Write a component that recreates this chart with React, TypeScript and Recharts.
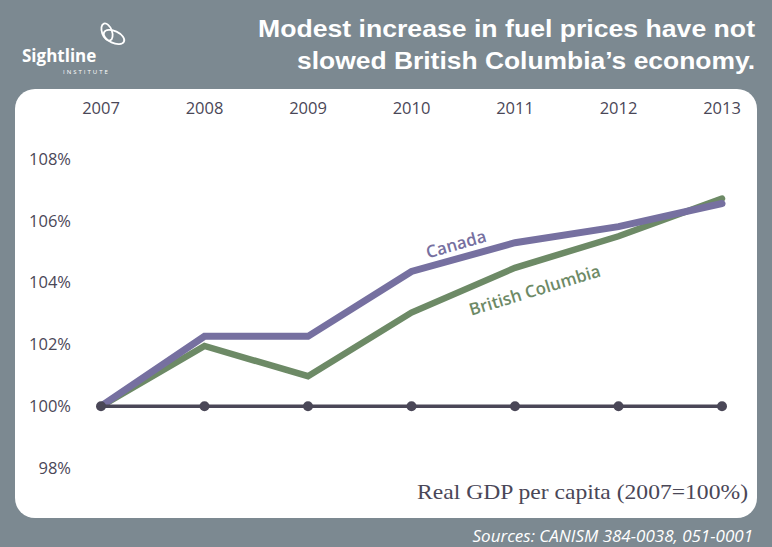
import React from "react";
import { LineChart, Line, XAxis, YAxis, ReferenceDot } from "recharts";

const years = [2007, 2008, 2009, 2010, 2011, 2012, 2013];
const canada = [100, 102.26, 102.26, 104.36, 105.29, 105.81, 106.56];
const britishColumbia = [100, 101.95, 100.97, 103.03, 104.48, 105.5, 106.72];
const baseline = [100, 100, 100, 100, 100, 100, 100];
const yTicks = [98, 100, 102, 104, 106, 108];

const data = years.map((year, i) => ({
  year,
  canada: canada[i],
  bc: britishColumbia[i],
  base: baseline[i],
}));

const INK = "#4a4757";
const PURPLE = "#7670a0";
const GREEN = "#6d8a66";
const BG = "#7c8991";
const SANS = "'Open Sans', 'Noto Sans', sans-serif";

function slopeLabel(text: string, color: string, angle: number) {
  return (props: any) => {
    const vb = props.viewBox || {};
    const x = vb.x + (vb.width || 0) / 2;
    const y = vb.y + (vb.height || 0) / 2;
    return (
      <text
        x={x}
        y={y}
        textAnchor="middle"
        dominantBaseline="central"
        transform={`rotate(${angle} ${x} ${y})`}
        fill={color}
        fontFamily={SANS}
        fontSize={17}
        fontWeight={600}
      >
        {text}
      </text>
    );
  };
}

function Backdrop() {
  return (
    <svg width={772} height={547} style={{ position: "absolute", left: 0, top: 0 }}>
      <rect x={0} y={0} width={772} height={547} fill={BG} />
      <rect x={15} y={89} width={742} height={429} rx={20} ry={20} fill="#ffffff" />
      {/* logo */}
      <g fill="none" stroke="#ffffff" strokeWidth={1.8}>
        <ellipse cx={114} cy={37} rx={11} ry={6} transform="rotate(25 114 37)" />
        <ellipse cx={107} cy={32} rx={5} ry={9} transform="rotate(-20 107 32)" />
      </g>
      <text x={22} y={62} fill="#ffffff" fontFamily={SANS} fontSize={17} fontWeight={700}>
        Sightline
      </text>
      <text x={63} y={74} fill="#ffffff" fontFamily={SANS} fontSize={6} letterSpacing={2}>
        INSTITUTE
      </text>
      {/* title */}
      <g fill="#ffffff" fontFamily="'Liberation Sans', Arial, sans-serif" fontSize={24} fontWeight={700} textAnchor="end">
        <text x={755} y={37} textLength={497} lengthAdjust="spacingAndGlyphs">
          Modest increase in fuel prices have not
        </text>
        <text x={755} y={69} textLength={458} lengthAdjust="spacingAndGlyphs">
          slowed British Columbia’s economy.
        </text>
      </g>
      <text
        x={748}
        y={499}
        textAnchor="end"
        fill={INK}
        fontFamily="'Liberation Serif', 'DejaVu Serif', serif"
        fontSize={21}
        textLength={331}
        lengthAdjust="spacingAndGlyphs"
      >
        Real GDP per capita (2007=100%)
      </text>
      <text x={753} y={542} textAnchor="end" fill="#ffffff" fontFamily={SANS} fontStyle="italic" fontSize={17}>
        Sources: CANISM 384-0038, 051-0001
      </text>
    </svg>
  );
}

export default function App() {
  return (
    <div style={{ position: "absolute", left: 0, top: 0, width: 772, height: 547 }}>
      <Backdrop />
      <div style={{ position: "absolute", left: 0, top: 0 }}>
        <LineChart width={772} height={547} data={data} margin={{ top: 129, right: 50, left: 41, bottom: 79 }}>
          <XAxis
            dataKey="year"
            type="number"
            domain={[2007, 2013]}
            ticks={years}
            orientation="top"
            height={30}
            axisLine={false}
            tickLine={false}
            tickMargin={39}
            tick={{ fontSize: 16.5, fill: INK, fontFamily: SANS, fontWeight: 500 }}
          />
          <YAxis
            type="number"
            domain={[98, 108]}
            ticks={yTicks}
            width={60}
            axisLine={false}
            tickLine={false}
            tickMargin={24}
            tickFormatter={(v) => `${v}%`}
            tick={{ fontSize: 16.5, fill: INK, fontFamily: SANS, fontWeight: 500 }}
          />
          <Line
            dataKey="bc"
            stroke={GREEN}
            strokeWidth={6.5}
            dot={false}
            strokeLinecap="round"
            isAnimationActive={false}
          />
          <Line
            dataKey="canada"
            stroke={PURPLE}
            strokeWidth={7}
            dot={false}
            strokeLinecap="round"
            isAnimationActive={false}
          />
          <Line
            dataKey="base"
            stroke={INK}
            strokeWidth={3.5}
            dot={{ r: 5, fill: INK, stroke: "none" }}
            isAnimationActive={false}
          />
          <ReferenceDot
            x={2010.43}
            y={105.26}
            r={0}
            fill="none"
            stroke="none"
            label={slopeLabel("Canada", PURPLE, -16)}
          />
          <ReferenceDot
            x={2011.19}
            y={103.77}
            r={0}
            fill="none"
            stroke="none"
            label={slopeLabel("British Columbia", GREEN, -17)}
          />
        </LineChart>
      </div>
    </div>
  );
}
